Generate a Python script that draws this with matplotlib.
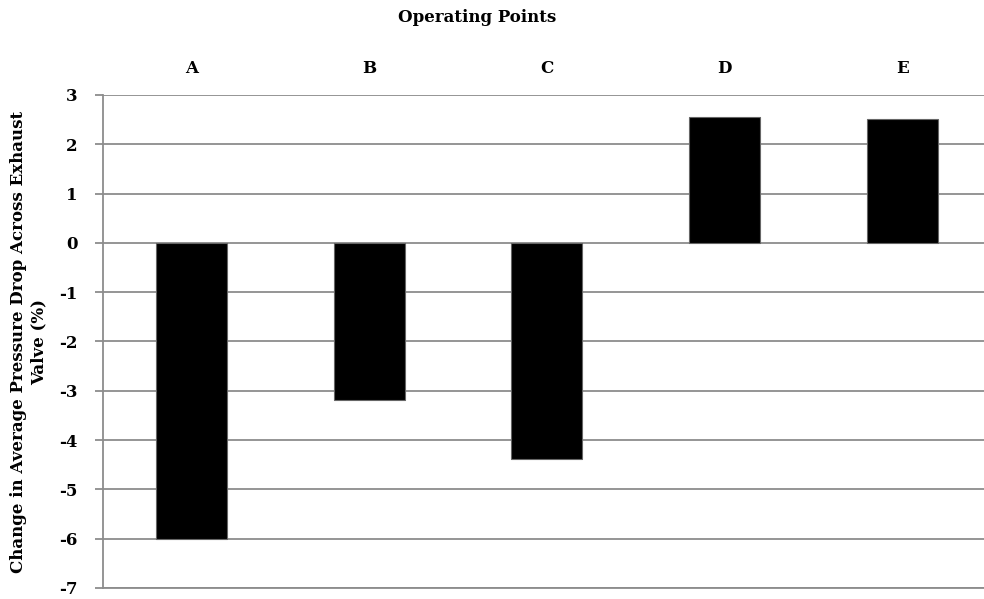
import matplotlib
matplotlib.use("Agg")
import matplotlib.pyplot as plt

categories = ["A", "B", "C", "D", "E"]
values = [-6.0, -3.18, -4.38, 2.55, 2.51]
yticks = [3, 2, 1, 0, -1, -2, -3, -4, -5, -6, -7]

plt.rcParams['font.family'] = ['DejaVu Serif']
plt.rcParams['font.weight'] = 'bold'

W, H = 984, 599
fig = plt.figure(figsize=(W/100, H/100), dpi=100)
left, right, top, bottom = 102.6, 991, 95, 588
ax = fig.add_axes([left/W, 1-bottom/H, (right-left)/W, (bottom-top)/H])

grid_c = '#8c8c8c'
fs = 12
x = list(range(len(categories)))
ax.bar(x, values, width=0.40, color='black', edgecolor='#666666', linewidth=0.8, zorder=3)
ax.set_xlim(-0.5, len(categories)-0.5)
ax.set_ylim(-7, 3)
ax.set_yticks(yticks)
ax.set_yticklabels([str(t) for t in yticks], fontsize=fs, fontweight='bold')
ax.yaxis.grid(True, color=grid_c, linewidth=1.3, zorder=0)
ax.set_axisbelow(True)

ax.xaxis.tick_top()
ax.set_xticks(x)
ax.set_xticklabels([])
ax.tick_params(axis='x', length=0)
ax.tick_params(axis='y', length=6, width=1.3, color=grid_c, pad=12)

for s in ['top', 'right']:
    ax.spines[s].set_visible(False)
for s in ['left', 'bottom']:
    ax.spines[s].set_color(grid_c)
    ax.spines[s].set_linewidth(1.3)

for xi, c in zip(x, categories):
    ax.annotate(c, xy=(xi, 1), xycoords=('data', 'axes fraction'),
                xytext=(0, 19), textcoords='offset points', ha='center', va='center',
                fontsize=fs, fontweight='bold', annotation_clip=False)

fig.text(477/W, 1-17/H, "Operating Points", ha='center', va='center', fontsize=fs, fontweight='bold')
fig.text(29/W, 1-342/H, "Change in Average Pressure Drop Across Exhaust\nValve (%)",
         rotation=90, ha='center', va='center', fontsize=fs, fontweight='bold',
         multialignment='center', linespacing=1.3)

fig.savefig("out.png", dpi=100)
